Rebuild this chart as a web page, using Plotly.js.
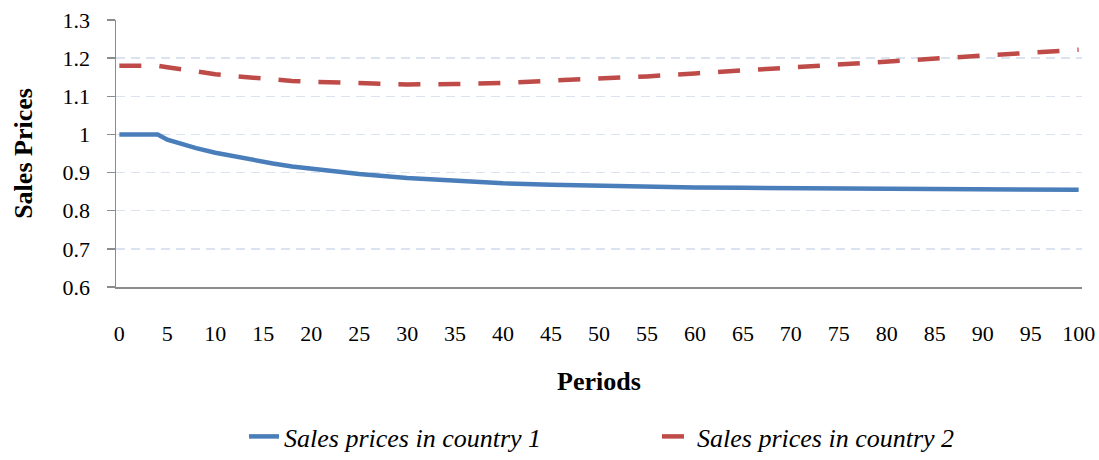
<!DOCTYPE html>
<html>
<head>
<meta charset="utf-8">
<script src="https://cdn.plot.ly/plotly-3.0.1.min.js"></script>
<style>html,body{margin:0;padding:0;background:#fff;}#chart{width:1099px;height:460px;}</style>
</head>
<body>
<div id="chart"></div>
<script>
const periods = [0, 4, 5, 6, 7, 8, 10, 12, 14, 16, 18, 20, 25, 30, 35, 40, 45, 50, 55, 60, 65, 70, 75, 80, 85, 90, 95, 100];
const country1 = [1.000, 1.000, 0.986, 0.978, 0.970, 0.964, 0.952, 0.942, 0.932, 0.924, 0.916, 0.910, 0.896, 0.886, 0.878, 0.872, 0.868, 0.865, 0.863, 0.861, 0.860, 0.859, 0.858, 0.857, 0.857, 0.856, 0.856, 0.855];
const country2 = [1.180, 1.180, 1.176, 1.172, 1.168, 1.165, 1.158, 1.153, 1.148, 1.143, 1.140, 1.138, 1.134, 1.131, 1.132, 1.135, 1.141, 1.146, 1.152, 1.160, 1.168, 1.176, 1.184, 1.192, 1.199, 1.207, 1.214, 1.222];
const seriesNames = ['Sales prices in country 1', 'Sales prices in country 2'];
const xTicks = [0, 5, 10, 15, 20, 25, 30, 35, 40, 45, 50, 55, 60, 65, 70, 75, 80, 85, 90, 95, 100];
const yTicks = [0.6, 0.7, 0.8, 0.9, 1, 1.1, 1.2, 1.3];
const yTickText = ['0.6', '0.7', '0.8', '0.9', '1', '1.1', '1.2', '1.3'];

const serif = '"Liberation Serif"';

const traces = [
  {x: periods, y: country1, name: seriesNames[0], type: 'scatter', mode: 'lines',
   line: {color: '#4A7EBB', width: 4.5}},
  {x: periods, y: country2, name: seriesNames[1], type: 'scatter', mode: 'lines',
   line: {color: '#BE4B48', width: 4.5, dash: '22px,18px'}}
];

const layout = {
  width: 1099, height: 460,
  margin: {l: 116, r: 17, t: 20, b: 173},
  paper_bgcolor: '#fff', plot_bgcolor: '#fff',
  showlegend: true,
  font: {family: serif, color: '#000'},
  xaxis: {
    range: [-0.35, 100.35], tickvals: xTicks, ticktext: xTicks.map(String),
    showgrid: false, zeroline: false, showline: true, linecolor: '#8C8C8C', linewidth: 1.5,
    ticks: '', ticklabelstandoff: 26,
    tickfont: {family: serif, size: 22, color: '#000'},
    title: {text: 'Periods', font: {family: serif, size: 26, color: '#000', weight: 'bold'}, standoff: 27},
    automargin: false, fixedrange: true
  },
  yaxis: {
    range: [0.6, 1.3], tickvals: yTicks, ticktext: yTickText,
    showgrid: true, gridcolor: '#DCE3F0', gridwidth: 1.5, griddash: '9px,6px',
    zeroline: false, showline: true, linecolor: '#8C8C8C', linewidth: 1.5,
    ticks: 'outside', ticklen: 8, tickwidth: 1.5, tickcolor: '#8C8C8C', ticklabelstandoff: 12,
    tickfont: {family: serif, size: 22, color: '#000'},
    title: {text: 'Sales Prices', font: {family: serif, size: 26, color: '#000', weight: 'bold'}, standoff: 22},
    automargin: false, fixedrange: true
  },
  legend: {
    orientation: 'h', x: 0.1325, xanchor: 'left', xref: 'paper',
    y: -0.01, yanchor: 'bottom', yref: 'container',
    font: {family: serif, size: 26, color: '#000', style: 'italic'},
    entrywidth: 368, entrywidthmode: 'pixels', bgcolor: 'rgba(0,0,0,0)'
  }
};

Plotly.newPlot('chart', traces, layout, {displayModeBar: false, staticPlot: true});
</script>
</body>
</html>
